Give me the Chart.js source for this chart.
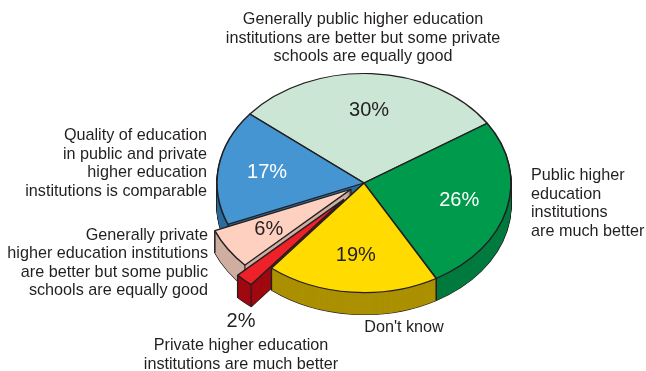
<!DOCTYPE html>
<html>
<head>
<meta charset="utf-8">
<style>html,body{margin:0;padding:0;background:#fff}canvas{display:block}</style>
<script src="https://cdn.jsdelivr.net/npm/chart.js@4/dist/chart.umd.min.js"></script>
</head>
<body>
<canvas id="pie" width="646" height="371"></canvas>
<script>
// Survey answers, clockwise from the upper left of the pie
const categories = [
  "Generally public higher education institutions are better but some private schools are equally good",
  "Public higher education institutions are much better",
  "Don't know",
  "Private higher education institutions are much better",
  "Generally private higher education institutions are better but some public schools are equally good",
  "Quality of education in public and private higher education institutions is comparable"
];
const shares = [30, 26, 19, 2, 6, 17];
const topColors = ["#cce6d5", "#009a4c", "#ffdb00", "#ee2129", "#fdd0bf", "#4595d3"];
const wallColors = ["#9dbfa9", "#007a3e", "#ab9000", "#a0080f", "#cfaea1", "#2b6c9e"];
const percentColors = ["#231f20", "#ffffff", "#231f20", "#231f20", "#231f20", "#ffffff"];
const explodePx = [0, 0, 0, 30, 15.5, 0];

const INK = "#231f20";
const TILT = 0.745;      // vertical squash of the disc
const DEPTH = 22;        // thickness of the disc in pixels
const PERCENT_RADIUS = 98;
const FONT = '"Liberation Sans", Arial, sans-serif';

// Captions outside the pie
const captions = [
  { lines: ["Generally public higher education", "institutions are better but some private", "schools are equally good"], x: 363, y: 20, step: 18.5, align: "center" },
  { lines: ["Public higher", "education", "institutions", "are much better"], x: 531, y: 176, step: 18.4, align: "left" },
  { lines: ["Don't know"], x: 404, y: 328, step: 18, align: "center" },
  { lines: ["Private higher education", "institutions are much better"], x: 241, y: 346, step: 18.5, align: "center" },
  { lines: ["Generally private", "higher education institutions", "are better but some public", "schools are equally good"], x: 208, y: 235.5, step: 18.4, align: "right" },
  { lines: ["Quality of education", "in public and private", "higher education", "institutions is comparable"], x: 207, y: 136, step: 18.4, align: "right" }
];
// The thin 2% wedge has no room for its number, so it sits below the wedge
const smallSliceLabel = { index: 3, x: 241, y: 321 };

function paintArc(arc, ctx, style) {
  const saved = arc.options;
  arc.options = Object.assign({
    offset: 0, spacing: 0, circular: true, borderAlign: "center",
    borderJoinStyle: "round", borderDash: [], borderDashOffset: 0
  }, style);
  arc.draw(ctx);
  arc.options = saved;
}

const extrudedPie = {
  id: "extrudedPie",
  beforeDatasetsDraw(chart) {
    const ctx = chart.ctx;
    const arcs = chart.getDatasetMeta(0).data;
    const cy = arcs[0].y;

    // Shift a slice outward and squash it into perspective
    const place = (i, drop) => {
      const arc = arcs[i];
      const mid = (arc.startAngle + arc.endAngle) / 2;
      ctx.translate(0, drop + cy);
      ctx.scale(1, TILT);
      ctx.translate(0, -cy);
      ctx.translate(Math.cos(mid) * explodePx[i], Math.sin(mid) * explodePx[i]);
    };

    // Back to front so nearer slices hide the walls behind them
    const order = [0, 5, 1, 4, 3, 2];
    order.forEach((i) => {
      const arc = arcs[i];
      // dark silhouette of the wall
      for (let d = DEPTH; d >= 1; d--) {
        ctx.save(); place(i, d);
        paintArc(arc, ctx, { backgroundColor: INK, borderColor: INK, borderWidth: 1.5 });
        ctx.restore();
      }
      // wall colour
      for (let d = DEPTH; d >= 1; d--) {
        ctx.save(); place(i, d);
        paintArc(arc, ctx, { backgroundColor: wallColors[i], borderColor: wallColors[i], borderWidth: 0 });
        ctx.restore();
      }
      // vertical creases at the two outer corners of the slice
      [arc.startAngle, arc.endAngle].forEach((a) => {
        const mid = (arc.startAngle + arc.endAngle) / 2;
        const px = arc.x + Math.cos(mid) * explodePx[i] + Math.cos(a) * arc.outerRadius;
        const py = cy + (arc.y + Math.sin(mid) * explodePx[i] + Math.sin(a) * arc.outerRadius - cy) * TILT;
        ctx.save();
        ctx.strokeStyle = INK;
        ctx.lineWidth = 1.2;
        ctx.beginPath();
        ctx.moveTo(px, py);
        ctx.lineTo(px, py + DEPTH);
        ctx.stroke();
        ctx.restore();
      });
      // top face
      ctx.save(); place(i, 0);
      paintArc(arc, ctx, { backgroundColor: topColors[i], borderColor: INK, borderWidth: 1.6 });
      ctx.restore();
    });
    return false;
  },
  afterDraw(chart) {
    const ctx = chart.ctx;
    const arcs = chart.getDatasetMeta(0).data;
    ctx.save();
    ctx.textBaseline = "middle";

    // percentage on each slice
    ctx.font = "20px " + FONT;
    ctx.textAlign = "center";
    arcs.forEach((arc, i) => {
      const mid = (arc.startAngle + arc.endAngle) / 2;
      const r = explodePx[i] + PERCENT_RADIUS;
      let x = arc.x + Math.cos(mid) * r;
      let y = arc.y + Math.sin(mid) * r * TILT;
      if (i === smallSliceLabel.index) { x = smallSliceLabel.x; y = smallSliceLabel.y; }
      ctx.fillStyle = percentColors[i];
      ctx.fillText(shares[i] + "%", x, y);
    });

    // captions
    ctx.font = "16.2px " + FONT;
    ctx.fillStyle = INK;
    captions.forEach((c) => {
      ctx.textAlign = c.align;
      c.lines.forEach((line, k) => ctx.fillText(line, c.x, c.y + k * c.step));
    });
    ctx.restore();
  }
};

new Chart(document.getElementById("pie"), {
  type: "pie",
  data: {
    labels: categories,
    datasets: [{ data: shares, backgroundColor: topColors, borderColor: INK, borderWidth: 1 }]
  },
  options: {
    responsive: false,
    animation: false,
    rotation: -51,
    radius: 147,
    layout: { padding: { left: 82, bottom: 5 } },
    plugins: { legend: { display: false }, tooltip: { enabled: false } }
  },
  plugins: [extrudedPie]
});
</script>
</body>
</html>
